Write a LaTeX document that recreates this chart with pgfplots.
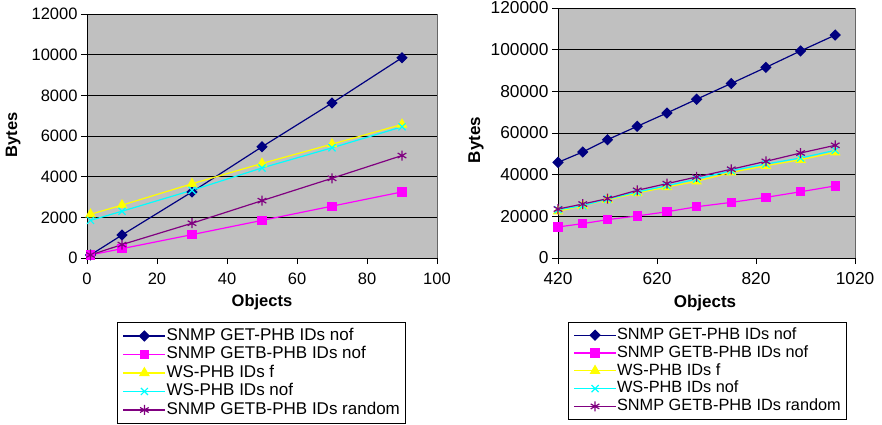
\documentclass[border=0pt]{standalone}
\usepackage{fontspec}
\setmainfont{Liberation Sans}
\usepackage{pgfplots}
\pgfplotsset{compat=1.18}

\definecolor{cNavy}{RGB}{0,0,128}
\definecolor{cMag}{RGB}{255,0,255}
\definecolor{cYel}{RGB}{255,255,0}
\definecolor{cCyan}{RGB}{0,255,255}
\definecolor{cPur}{RGB}{128,0,128}
\definecolor{bgGray}{RGB}{192,192,192}

\pgfplotsset{
  excel/.style={
    scale only axis,
    axis lines=left,
    axis line style={-, black, line width=0.8pt},
    axis background/.style={fill=bgGray, draw=gray!80!black, line width=0.5pt},
    ymajorgrids, grid style={black, line width=0.8pt},
    tick align=outside,
    major tick length=6pt,
    tick style={black, line width=0.8pt},
    /pgf/number format/fixed,
    /pgf/number format/assume math mode=true,
    /pgf/number format/1000 sep={},
    scaled ticks=false,
    clip=false,
    xticklabel style={yshift=-5pt},
    legend cell align=left,
    legend image code/.code={\draw[mark repeat=2,mark phase=2,##1,line width=1.3pt] plot coordinates {(0pt,0pt) (21pt,0pt) (42pt,0pt)};},
    legend style={draw=black, line width=0.6pt, fill=white, anchor=north west,
      inner xsep=5pt, inner ysep=4.5pt,
      nodes={text height=13pt, text depth=4.5pt, inner sep=0.5pt}},
  },
  s1/.style={cNavy, line width=1.2pt, mark=square*, mark size=3.4pt, mark options={solid, fill=cNavy, draw=cNavy, rotate=45}},
  s2/.style={cMag, line width=1.2pt, mark=square*, mark size=4pt, mark options={solid, fill=cMag, draw=cMag}},
  s3/.style={cYel, line width=1.2pt, mark=triangle*, mark size=5pt, mark options={solid, fill=cYel, draw=cYel}},
  s4/.style={cCyan, line width=1.2pt, mark=x, mark size=5pt, mark options={solid, draw=cCyan, line width=1.2pt}},
  s5/.style={cPur, line width=1.2pt, mark=asterisk, mark size=5pt, mark options={solid, draw=cPur, line width=1.2pt}},
}

\begin{document}
\begin{tikzpicture}[x=1pt,y=1pt]
\useasboundingbox (0,0) rectangle (882,424);

% ---------------- Left chart ----------------
\begin{axis}[excel,
  at={(87pt,166pt)}, anchor=south west,
  width=350pt, height=244pt,
  xmin=0, xmax=100, ymin=0, ymax=12000,
  xtick={0,20,40,60,80,100},
  ytick={0,2000,4000,6000,8000,10000,12000},
  tick label style={font=\fontsize{16.5}{19}\selectfont},
  xlabel={Objects}, ylabel={Bytes},
  xlabel style={font=\fontsize{16.5}{19}\selectfont\bfseries, at={(axis description cs:0.5,-0.18)}, anchor=center},
  ylabel style={font=\fontsize{16.5}{19}\selectfont\bfseries, at={(axis description cs:-0.211,0.504)}, anchor=center, rotate=0},
  legend style={at={(axis description cs:0.087,-0.262)}, font=\fontsize{17}{19}\selectfont},
]
\addplot[s1] coordinates {(1,150) (10,1130) (30,3250) (50,5470) (70,7620) (90,9850)};
\addlegendentry{SNMP GET-PHB IDs nof}
\addplot[s2] coordinates {(1,150) (10,460) (30,1150) (50,1850) (70,2550) (90,3250)};
\addlegendentry{SNMP GETB-PHB IDs nof}
\addplot[s3] coordinates {(1,2150) (10,2600) (30,3650) (50,4650) (70,5600) (90,6570)};
\addlegendentry{WS-PHB IDs f}
\addplot[s4] coordinates {(1,1850) (10,2300) (30,3330) (50,4430) (70,5420) (90,6450)};
\addlegendentry{WS-PHB IDs nof}
\addplot[s5] coordinates {(1,150) (10,660) (30,1710) (50,2820) (70,3920) (90,5040)};
\addlegendentry{SNMP GETB-PHB IDs random}
\end{axis}

% ---------------- Right chart ----------------
\begin{axis}[excel,
  at={(558pt,166pt)}, anchor=south west,
  width=297pt, height=250pt,
  xmin=420, xmax=1020, ymin=0, ymax=120000,
  xtick={420,620,820,1020},
  ytick={0,20000,40000,60000,80000,100000,120000},
  tick label style={font=\fontsize{17.3}{19}\selectfont},
  xlabel={Objects}, ylabel={Bytes},
  xlabel style={font=\fontsize{17}{19}\selectfont\bfseries, at={(axis description cs:0.495,-0.18)}, anchor=center},
  ylabel style={font=\fontsize{17}{19}\selectfont\bfseries, at={(axis description cs:-0.276,0.472)}, anchor=center, rotate=0},
  legend style={at={(axis description cs:0.034,-0.256)}, font=\fontsize{16.3}{18}\selectfont,
    inner ysep=4pt, nodes={text height=12.8pt, text depth=4.2pt, inner sep=0.4pt}},
]
\addplot[s1] coordinates {(420,45900) (470,50900) (520,56800) (580,63200) (640,69600) (700,76200) (770,83800) (840,91500) (910,99400) (980,107000)};
\addlegendentry{SNMP GET-PHB IDs nof}
\addplot[s2] coordinates {(420,14900) (470,16500) (520,18400) (580,20200) (640,22200) (700,24600) (770,26700) (840,29100) (910,31800) (980,34600)};
\addlegendentry{SNMP GETB-PHB IDs nof}
\addplot[s3] coordinates {(420,22400) (470,25100) (520,28000) (580,31200) (640,34100) (700,36800) (770,41100) (840,44300) (910,47200) (980,50700)};
\addlegendentry{WS-PHB IDs f}
\addplot[s4] coordinates {(420,23200) (470,25100) (520,28300) (580,31700) (640,34700) (700,37900) (770,41900) (840,45100) (910,48000) (980,51700)};
\addlegendentry{WS-PHB IDs nof}
\addplot[s5] coordinates {(420,23500) (470,25900) (520,28500) (580,32500) (640,35700) (700,38900) (770,42600) (840,46400) (910,50400) (980,54100)};
\addlegendentry{SNMP GETB-PHB IDs random}
\end{axis}
\end{tikzpicture}
\end{document}
